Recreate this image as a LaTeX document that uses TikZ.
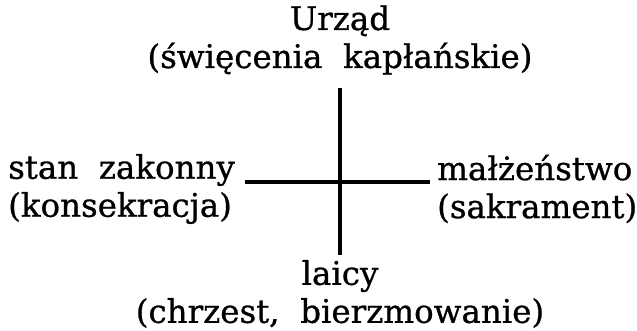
\documentclass[tikz,border=0pt]{standalone}
\usepackage{fontspec}
\setmainfont{DejaVu Serif}[FakeBold=0.8]
\tikzset{
  lbl/.style={inner sep=0pt, font=\fontsize{32.5}{38}\selectfont},
  bar/.style={line width=3.2pt}
}
\begin{document}
\begin{tikzpicture}[x=1pt,y=1pt]
\useasboundingbox (0,0) rectangle (637,330);
\node[lbl, align=center] (urzad) at (340,290) {Urząd\\(święcenia\ \ kapłańskie)};
\node[lbl, align=left, anchor=west] (zakon) at (8,141) {stan\ \ zakonny\\(konsekracja)};
\node[lbl, align=left, anchor=west] (malz) at (437,141) {małżeństwo\\(sakrament)};
\node[lbl, align=center] (laicy) at (340,36) {laicy\\(chrzest,\ \ bierzmowanie)};
\coordinate (c) at (340,148);
\coordinate (t) at (340,242);
\coordinate (b) at (340,75);
\coordinate (l) at (245,148);
\coordinate (r) at (430,148);
\draw[bar] (t) -- (b);
\draw[bar] (l) -- (r);
\end{tikzpicture}
\end{document}
